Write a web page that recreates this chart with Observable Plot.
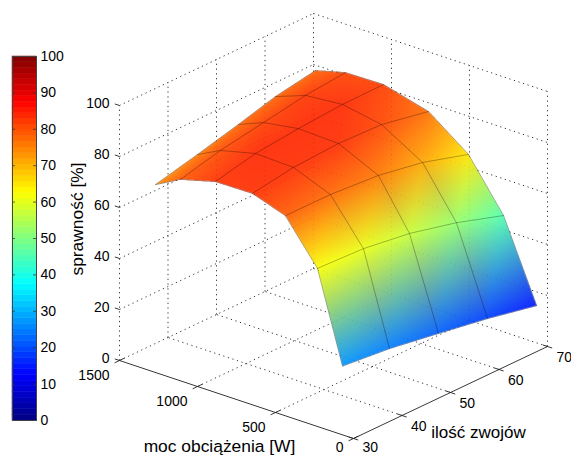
<!DOCTYPE html>
<html>
<head>
<meta charset="utf-8">
<script src="https://cdn.jsdelivr.net/npm/d3@7"></script>
<script src="https://cdn.jsdelivr.net/npm/@observablehq/plot@0.6"></script>
<style>
html,body{margin:0;padding:0;background:#fff}
#chart{position:relative;width:571px;height:455px;overflow:hidden}
#chart svg{position:absolute;left:0;top:0;background:transparent}
</style>
</head>
<body>
<div id="chart"></div>
<script>
// ---- data ----
const turns = [30, 40, 50, 60, 70];
const power30 = [1269, 1109, 885, 648, 436, 231, 70];
const power40 = [1311, 1164, 939, 696, 459, 247, 80];
const power50 = [1359, 1199, 975, 718, 462, 263, 77];
const power60 = [1433, 1240, 1003, 753, 490, 273, 73];
const power70 = [1487, 1295, 1051, 763, 507, 282, 70];
const eff30 = [73.7, 79.0, 82.7, 82.9, 78.5, 62.0, 27.0];
const eff40 = [75.6, 80.2, 83.6, 83.1, 77.3, 60.4, 24.6];
const eff50 = [77.4, 81.4, 83.6, 83.0, 75.7, 57.0, 21.6];
const eff60 = [77.8, 82.2, 83.5, 80.7, 71.2, 52.0, 18.5];
const eff70 = [77.9, 81.0, 81.3, 76.6, 65.0, 45.6, 14.6];
const powerTicks = [0, 500, 1000, 1500];
const turnTicks = [30, 40, 50, 60, 70];
const effTicks = [0, 20, 40, 60, 80, 100];
const barTicks = [0, 10, 20, 30, 40, 50, 60, 70, 80, 90, 100];
const jetStops = ["#000080", "#0000ff", "#0080ff", "#00ffff", "#80ff80", "#ffff00", "#ff8000", "#ff0000", "#800000"];

const powers = [power30, power40, power50, power60, power70];
const effs = [eff30, eff40, eff50, eff60, eff70];
const font = "'Liberation Sans', Arial, sans-serif";
const jet = d3.piecewise(d3.interpolateRgb, jetStops);

// orthographic view of (power, turns, efficiency) onto the picture plane
const view = ([p, n, e]) => [
  119 + 234 * (1500 - p) / 1500 + 194 * (n - 30) / 40,
  360 + 78 * (1500 - p) / 1500 - 92 * (n - 30) / 40 - 2.55 * e
];
const seg = (a, b) => ({a: view(a), b: view(b)});

// surface vertices and Gouraud triangles (vertex colours blended in RGB)
const verts = turns.map((n, i) => powers[i].map((p, j) => {
  const [x, y] = view([p, n, effs[i][j]]);
  return {x, y, c: d3.rgb(jet(effs[i][j] / 100))};
}));
const tris = [];
for (let i = 0; i < turns.length - 1; ++i) {
  for (let j = 0; j < power30.length - 1; ++j) {
    const A = verts[i][j], B = verts[i + 1][j], C = verts[i + 1][j + 1], D = verts[i][j + 1];
    tris.push([A, B, D], [B, C, D]);
  }
}
for (const t of tris) {
  t.x0 = Math.min(t[0].x, t[1].x, t[2].x); t.x1 = Math.max(t[0].x, t[1].x, t[2].x);
  t.y0 = Math.min(t[0].y, t[1].y, t[2].y); t.y1 = Math.max(t[0].y, t[1].y, t[2].y);
  t.d = (t[1].y - t[2].y) * (t[0].x - t[2].x) + (t[2].x - t[1].x) * (t[0].y - t[2].y);
}
function shade(x, y) {
  for (let k = tris.length - 1; k >= 0; --k) {
    const t = tris[k];
    if (x < t.x0 || x > t.x1 || y < t.y0 || y > t.y1) continue;
    const a = ((t[1].y - t[2].y) * (x - t[2].x) + (t[2].x - t[1].x) * (y - t[2].y)) / t.d;
    const b = ((t[2].y - t[0].y) * (x - t[2].x) + (t[0].x - t[2].x) * (y - t[2].y)) / t.d;
    const c = 1 - a - b;
    if (a >= -1e-6 && b >= -1e-6 && c >= -1e-6) {
      const mix = (ch) => Math.round(a * t[0].c[ch] + b * t[1].c[ch] + c * t[2].c[ch]);
      return `rgb(${mix("r")},${mix("g")},${mix("b")})`;
    }
  }
  return undefined;
}

// dotted grid on floor and back walls
const grid = [];
for (const p of [500, 1000]) grid.push(seg([p, 30, 0], [p, 70, 0]));
for (const n of [40, 50, 60]) grid.push(seg([0, n, 0], [1500, n, 0]));
for (const e of effTicks) {
  grid.push(seg([1500, 30, e], [1500, 70, e]));
  grid.push(seg([1500, 70, e], [0, 70, e]));
}
for (const n of turnTicks) grid.push(seg([1500, n, 0], [1500, n, 100]));
for (const p of [1000, 500, 0]) grid.push(seg([p, 70, 0], [p, 70, 100]));

// solid axes and ticks
const axes = [seg([1500, 30, 0], [0, 30, 0]), seg([0, 30, 0], [0, 70, 0])];
for (const p of powerTicks) axes.push(seg([p, 29, 0], [p, 31, 0]));
for (const n of turnTicks) axes.push(seg([-30, n, 0], [30, n, 0]));
for (const e of effTicks) axes.push(seg([1500, 30, e], [1530, 30, e]));

// mesh lines
const mesh = [];
turns.forEach((n, i) => powers[i].forEach((p, j) => mesh.push({line: "n" + i, x: verts[i][j].x, y: verts[i][j].y})));
power30.forEach((_, j) => turns.forEach((n, i) => mesh.push({line: "p" + j, x: verts[i][j].x, y: verts[i][j].y})));

const txt = (rows) => rows.map(([pt, label]) => {
  const [x, y] = view(pt);
  return {x, y, label};
});

const main = Plot.plot({
  width: 571, height: 455, margin: 0,
  x: {domain: [0, 571], range: [0, 571], axis: null},
  y: {domain: [0, 455], range: [0, 455], axis: null},
  color: {type: "identity"},
  style: {fontFamily: font, background: "transparent"},
  marks: [
    Plot.link(grid, {x1: d => d.a[0], y1: d => d.a[1], x2: d => d.b[0], y2: d => d.b[1], stroke: "#333", strokeWidth: 1, strokeDasharray: "1.2 3.6"}),
    Plot.link(axes, {x1: d => d.a[0], y1: d => d.a[1], x2: d => d.b[0], y2: d => d.b[1], stroke: "#222", strokeWidth: 0.9}),
    Plot.raster({fill: shade, x1: 0, y1: 0, x2: 571, y2: 455, pixelSize: 0.5, opacity: 0.92}),
    Plot.line(mesh, {x: "x", y: "y", z: "line", stroke: "#000", strokeWidth: 0.8, strokeOpacity: 0.36, curve: "linear"}),
    Plot.text(txt(effTicks.map(e => [[1500, 30, e], String(e)])), {x: "x", y: "y", text: "label", textAnchor: "end", dx: -10, dy: -2, fontSize: 14, fill: "#000"}),
    Plot.text(txt(powerTicks.filter(p => p > 0).map(p => [[p, 30, 0], String(p)])), {x: "x", y: "y", text: "label", textAnchor: "end", dx: -10, dy: 15, fontSize: 14, fill: "#000"}),
    Plot.text(txt([[[0, 30, 0], "0"]]), {x: "x", y: "y", text: "label", textAnchor: "end", dx: -10, dy: 9.5, fontSize: 14, fill: "#000"}),
    Plot.text(txt(turnTicks.filter(n => n > 30).map(n => [[0, n, 0], String(n)])), {x: "x", y: "y", text: "label", textAnchor: "start", dx: 9, dy: 11.5, fontSize: 14, fill: "#000"}),
    Plot.text(txt([[[0, 30, 0], "30"]]), {x: "x", y: "y", text: "label", textAnchor: "start", dx: 9, dy: 9.5, fontSize: 14, fill: "#000"}),
    Plot.text(txt([[[750, 30, 0], "moc obciążenia [W]"]]), {x: "x", y: "y", text: "label", dx: -17, dy: 47, fontSize: 17.4, fill: "#000"}),
    Plot.text(txt([[[0, 50, 0], "ilość zwojów"]]), {x: "x", y: "y", text: "label", dx: 28, dy: 40, fontSize: 17, fill: "#000"}),
    Plot.text(txt([[[1500, 30, 50], "sprawność [%]"]]), {x: "x", y: "y", text: "label", dx: -42, dy: -14, rotate: -90, fontSize: 17.4, fill: "#000"})
  ]
});

const levels = d3.range(64);
const bar = Plot.plot({
  width: 80, height: 455, marginLeft: 12, marginRight: 44, marginTop: 56, marginBottom: 35,
  x: {domain: [0, 1], axis: null},
  y: {domain: [0, 100], axis: null},
  color: {type: "linear", domain: [0, 100], interpolate: jet},
  style: {fontFamily: font, background: "transparent"},
  marks: [
    Plot.rect(levels, {x1: 0, x2: 1, y1: i => i * 100 / 64, y2: i => (i + 1) * 100 / 64, fill: i => (i + 0.5) * 100 / 64, stroke: i => (i + 0.5) * 100 / 64, strokeWidth: 0.5}),
    Plot.ruleY(barTicks, {x1: 0, x2: 0.12, stroke: "#333", strokeWidth: 0.8}),
    Plot.ruleY(barTicks, {x1: 0.88, x2: 1, stroke: "#333", strokeWidth: 0.8}),
    Plot.frame({stroke: "#444", strokeWidth: 1}),
    Plot.text(barTicks, {x: 1, y: d => d, text: d => String(d), textAnchor: "start", dx: 4, fontSize: 14, fill: "#000"})
  ]
});

const root = document.getElementById("chart");
root.append(bar, main);
</script>
</body>
</html>
